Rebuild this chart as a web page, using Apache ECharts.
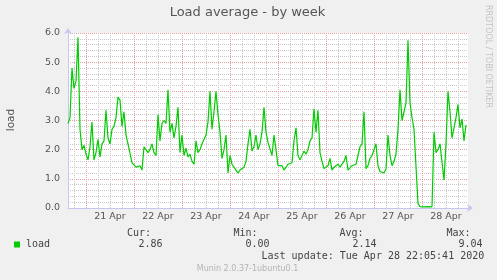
<!DOCTYPE html>
<html><head><meta charset="utf-8">
<script src="https://cdn.jsdelivr.net/npm/echarts@6/dist/echarts.min.js"></script>
<style>html,body{margin:0;padding:0;background:#f0f0f0}#c{width:497px;height:280px}</style>
</head><body><div id="c"></div>
<script>
// hourly samples starting 20 Apr 2020 15:00
const startDay = 20, startHour = 15, sampleCount = 201;
const dayLabels = ['20 Apr','21 Apr','22 Apr','23 Apr','24 Apr','25 Apr','26 Apr','27 Apr','28 Apr'];
const loadValues = [
 2.9, 3.1, 4.8, 4.1, 4.35, 5.85, 2.7, 2.0, 2.15, 1.85,
 1.65, 2.1, 2.95, 1.65, 1.9, 2.35, 1.75, 2.2, 2.3, 3.35,
 2.4, 2.2, 2.7, 2.8, 3.1, 3.8, 3.7, 2.8, 3.3, 2.5,
 2.2, 2.2, 1.55, 1.6, 1.4, 1.4, 1.45, 1.3, 2.1, 2.0,
 1.9, 2.0, 2.2, 1.9, 1.8, 3.2, 2.3, 2.9, 3.0, 2.9,
 4.05, 2.6, 2.9, 2.4, 2.8, 3.45, 1.9, 2.5, 1.8, 2.05,
 1.75, 1.85, 1.6, 1.5, 2.3, 1.9, 2.0, 2.2, 2.2, 2.5,
 2.95, 4.0, 2.7, 3.3, 4.0, 3.2, 2.6, 1.7, 2.0, 2.5,
 1.2, 1.8, 1.5, 1.4, 1.3, 1.2, 1.3, 1.3, 1.4, 1.6,
 2.2, 2.7, 1.95, 2.1, 2.5, 2.0, 2.2, 2.6, 3.45, 2.6,
 2.25, 2.3, 1.8, 2.5, 2.0, 1.45, 1.4, 1.45, 1.3, 1.3,
 1.5, 1.45, 1.55, 2.3, 2.75, 1.8, 1.65, 1.65, 1.95, 1.85,
 2.0, 2.3, 2.4, 3.4, 2.6, 3.35, 1.9, 1.6, 1.35, 1.35,
 1.45, 1.7, 1.3, 1.4, 1.35, 1.5, 1.4, 1.45, 1.6, 1.8,
 1.3, 1.25, 1.45, 1.4, 1.5, 1.55, 2.1, 2.2, 3.3, 1.35,
 1.45, 1.7, 1.8, 1.8, 2.2, 1.45, 1.25, 1.25, 1.2, 1.35,
 2.5, 1.8, 1.45, 1.6, 1.85, 2.7, 4.05, 3.0, 3.3, 3.6,
 5.75, 3.6, 3.1, 2.7, 2.65, 0.15, 0.05, 0.06, 0.04, 0.07,
 0.05, 0.06, 0.04, 2.6, 1.9, 2.0, 2.2, 2.25, 0.95, 2.2,
 4.0, 3.3, 2.4, 2.45, 3.1, 3.55, 2.75, 3.05, 2.3, 2.85,
 null
];
const yMin = 0, yMax = 6, yStep = 1;
const legendName = 'load';
const legendHeaders = ['Cur:', 'Min:', 'Avg:', 'Max:'];
const legendValues = ['2.86', '0.00', '2.14', '9.04'];
const lastUpdate = 'Last update: Tue Apr 28 22:05:41 2020';
const titleText = 'Load average - by week';
const yName = 'load';
const sideText = 'RRDTOOL / TOBI OETIKER';
const footerText = 'Munin 2.0.37-1ubuntu0.1';

// category list (one per hour)
const categories = [];
for (let i = 0; i < sampleCount; i++) {
  const h = startHour + i;
  const day = startDay + Math.floor(h / 24);
  const hour = h % 24;
  categories.push(day + '|' + hour);
}
const hourOf = v => parseInt(String(v).split('|')[1], 10);
const dayOf = v => parseInt(String(v).split('|')[0], 10);

const GREEN = '#00cc00';
const RED = '#e4a0a0';
const GRAY = '#c8c8c8';
const AXIS = '#c6c6f2';
const TXT = '#555555';

const chart = echarts.init(document.getElementById('c'), null, {renderer: 'canvas'});

const legendX = [127, 233.5, 339.5, 446.5];
const valueX = [138.5, 245.5, 352.5, 458.5];
const T = (x, y, text, font, fill, align, extra) => Object.assign({type:'text', x, y, style:{text, font, fill, align, verticalAlign:'middle', textAlign:align, textVerticalAlign:'middle'}}, extra || {});
const graphics = [
  T(247.5, 13, titleText, '13px "DejaVu Sans"', '#555', 'center'),
  T(11, 120, yName, '10.5px "DejaVu Sans"', '#555', 'center', {rotation: Math.PI/2}),
  T(488, 5, sideText, '8px "DejaVu Sans"', '#c4c4c4', 'left', {rotation: -Math.PI/2}),
  {type:'rect', shape:{x:14, y:241.5, width:6, height:6}, style:{fill:GREEN}},
  T(26, 244.5, legendName, '10px "DejaVu Sans Mono"', '#444', 'left'),
  T(261.5, 256.7, lastUpdate, '10px "DejaVu Sans Mono"', '#444', 'left'),
  T(247.5, 269.3, footerText, '8px "DejaVu Sans"', '#b4b4b4', 'center')
];
legendHeaders.forEach((t, k) => graphics.push(T(legendX[k], 233.3, t, '10px "DejaVu Sans Mono"', '#444', 'left')));
legendValues.forEach((t, k) => graphics.push(T(valueX[k], 244.5, t, '10px "DejaVu Sans Mono"', '#444', 'left')));

chart.setOption({
  animation: false,
  backgroundColor: '#f0f0f0',
  grid: {left: 68, right: 29, top: 33, bottom: 72, show: true, backgroundColor: '#ffffff', borderWidth: 0},
  xAxis: [
    {
      type: 'category', data: categories, boundaryGap: false, position: 'bottom',
      axisLine: {show: true, lineStyle: {color: AXIS, width: 1}, symbol: ['none', 'arrow'], symbolSize: [6, 6], symbolOffset: [0, 5]},
      axisTick: {show: false},
      axisLabel: {
        interval: (idx, v) => hourOf(v) === 12,
        formatter: v => dayLabels[dayOf(v) - startDay],
        color: TXT, fontFamily: 'DejaVu Sans', fontSize: 9.5, margin: 4
      },
      splitLine: {show: true, interval: (idx, v) => hourOf(v) === 0, lineStyle: {color: RED, type: 'dotted', width: 1}},
      z: 3
    },
    {
      type: 'category', data: categories, boundaryGap: false, position: 'bottom',
      axisLine: {show: false}, axisTick: {show: false}, axisLabel: {show: false},
      splitLine: {show: true, interval: (idx, v) => hourOf(v) % 6 === 0 && hourOf(v) !== 0, lineStyle: {color: GRAY, type: 'dotted', width: 1}},
      z: 1
    }
  ],
  yAxis: {
    type: 'value', min: yMin, max: yMax, interval: yStep,
    axisLine: {show: true, lineStyle: {color: AXIS, width: 1}, symbol: ['none', 'arrow'], symbolSize: [6, 6], symbolOffset: [0, 5]},
    axisTick: {show: false},
    axisLabel: {formatter: v => v.toFixed(1), color: TXT, fontFamily: 'DejaVu Sans', fontSize: 9.5, margin: 8},
    splitLine: {show: true, lineStyle: {color: RED, type: 'dotted', width: 1}},
    minorTick: {show: true, splitNumber: 5, length: 0, lineStyle: {color: 'rgba(0,0,0,0)'}},
    minorSplitLine: {show: true, lineStyle: {color: GRAY, type: 'dotted', width: 1}}
  },
  series: [{
    type: 'line', name: legendName, data: loadValues, xAxisIndex: 0,
    symbol: 'none', showSymbol: false,
    lineStyle: {color: GREEN, width: 1.2}, itemStyle: {color: GREEN},
    z: 5
  }],
  graphic: graphics
});
</script></body></html>
